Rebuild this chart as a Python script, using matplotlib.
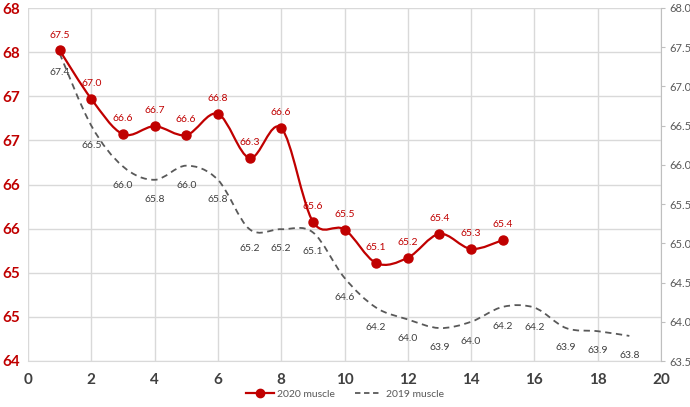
import matplotlib
matplotlib.use("Agg")
import matplotlib.pyplot as plt
from matplotlib.path import Path
from matplotlib.patches import PathPatch
from matplotlib.lines import Line2D
import numpy as np

plt.rcParams['font.family'] = ['Lato', 'DejaVu Sans']

x2020 = [1, 2, 3, 4, 5, 6, 7, 8, 9, 10, 11, 12, 13, 14, 15]
y2020 = [67.52, 66.97, 66.57, 66.66, 66.56, 66.80, 66.30, 66.64, 65.58, 65.49,
         65.11, 65.17, 65.44, 65.27, 65.37]
x2019 = list(range(1, 20))
y2019 = [67.42, 66.50, 65.98, 65.81, 65.99, 65.81, 65.18, 65.18, 65.14, 64.56,
         64.18, 64.03, 63.92, 64.00, 64.19, 64.18, 63.92, 63.88, 63.82]

left_ticks = [64, 64.5, 65, 65.5, 66, 66.5, 67, 67.5, 68]
left_labels = ['64', '65', '65', '66', '66', '67', '67', '68', '68']
right_ticks = [63.5, 64.0, 64.5, 65.0, 65.5, 66.0, 66.5, 67.0, 67.5, 68.0]
x_ticks = [0, 2, 4, 6, 8, 10, 12, 14, 16, 18, 20]

RED = '#C00000'
GRAY = '#595959'
GRID = '#D9D9D9'


def smooth_path(xs, ys):
    xs = np.asarray(xs, float)
    ys = np.asarray(ys, float)
    n = len(xs)
    verts = [(xs[0], ys[0])]
    codes = [Path.MOVETO]
    for i in range(n - 1):
        p0 = i - 1 if i > 0 else i
        p3 = i + 2 if i + 2 < n else i + 1
        c1 = (xs[i] + (xs[i + 1] - xs[p0]) / 6, ys[i] + (ys[i + 1] - ys[p0]) / 6)
        c2 = (xs[i + 1] - (xs[p3] - xs[i]) / 6, ys[i + 1] - (ys[p3] - ys[i]) / 6)
        verts += [c1, c2, (xs[i + 1], ys[i + 1])]
        codes += [Path.CURVE4] * 3
    return Path(verts, codes)


fig = plt.figure(figsize=(6.9, 4.07), dpi=100)
ax = fig.add_axes([28 / 690, 46 / 407, 633 / 690, 353 / 407])
ax2 = ax.twinx()

ax.set_xlim(0, 20)
ax.set_ylim(64, 68)
ax2.set_ylim(63.5, 68.0)

ax.set_xticks(x_ticks)
ax.set_xticklabels([str(t) for t in x_ticks], fontsize=11, fontweight='bold', color='#404040')
ax.set_yticks(left_ticks)
ax.set_yticklabels(left_labels, fontsize=11, fontweight='bold', color=RED)
ax.tick_params(axis='y', length=0, pad=6)
ax.tick_params(axis='x', length=0, pad=9)
ax.grid(True, color=GRID, linewidth=1)
ax.set_axisbelow(True)
for s in ['left', 'right', 'top']:
    ax.spines[s].set_visible(False)
ax.spines['bottom'].set_color(GRID)

ax2.set_yticks(right_ticks)
ax2.set_yticklabels([f'{t:.1f}' for t in right_ticks], fontsize=8, color='#595959')
ax2.tick_params(axis='y', length=3, color='#BFBFBF', pad=3)
for s in ['left', 'top', 'bottom']:
    ax2.spines[s].set_visible(False)
ax2.spines['right'].set_color('#BFBFBF')

# 2019 on secondary axis
p19 = PathPatch(smooth_path(x2019, y2019), facecolor='none', edgecolor=GRAY,
                linewidth=1.3, linestyle=(0, (3.5, 2.5)), transform=ax2.transData)
ax2.add_patch(p19)
for xv, yv in zip(x2019, y2019):
    ax2.annotate(f'{yv:.1f}', (xv, yv), xytext=(0, -14), textcoords='offset points',
                 ha='center', va='center', fontsize=7.5, color='#404040')

# 2020 on primary axis scale, drawn in the top axes so it sits above the grid
p20 = PathPatch(smooth_path(x2020, y2020), facecolor='none', edgecolor=RED,
                linewidth=1.6, transform=ax.transData)
ax2.add_patch(p20)
ax2.plot(x2020, y2020, linestyle='none', marker='o', markersize=6.5, color=RED,
         transform=ax.transData)
for xv, yv in zip(x2020, y2020):
    ax2.annotate(f'{yv:.1f}', (xv, yv), xycoords=ax.transData, xytext=(0, 11),
                 textcoords='offset points', ha='center', va='center', fontsize=7.5, color=RED)
ax2.set_xlim(0, 20)
ax2.set_ylim(63.5, 68.0)

handles = [Line2D([], [], color=RED, marker='o', markersize=6, linewidth=1.6),
           Line2D([], [], color=GRAY, linestyle=(0, (3, 2)), linewidth=1.3)]
fig.legend(handles, ['2020 muscle', '2019 muscle'], loc='center', bbox_to_anchor=(345 / 690, 1 - 394 / 407),
           ncol=2, frameon=False, fontsize=7.5, labelcolor='#595959', handlelength=2.6,
           columnspacing=2.0, handletextpad=0.3)

fig.savefig('out.png', dpi=100)
